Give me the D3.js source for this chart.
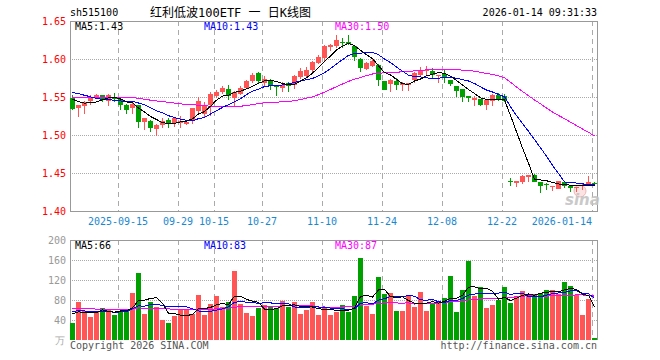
<!DOCTYPE html>
<html>
<head>
<meta charset="utf-8">
<script src="https://cdn.jsdelivr.net/npm/d3@7"></script>
<style>
  body { margin: 0; background: #fff; }
  text { font-family: "DejaVu Sans Mono", monospace; font-size: 10px; }
</style>
</head>
<body>
<div class="canvas"></div>
<script>
// trading days shown on the chart
const dates = [
  '2025-09-03','2025-09-04','2025-09-05','2025-09-08','2025-09-09','2025-09-10','2025-09-11','2025-09-12',
  '2025-09-15','2025-09-16','2025-09-17','2025-09-18','2025-09-19','2025-09-22','2025-09-23','2025-09-24',
  '2025-09-25','2025-09-26','2025-09-29','2025-09-30','2025-10-09','2025-10-10','2025-10-13','2025-10-14',
  '2025-10-15','2025-10-16','2025-10-17','2025-10-20','2025-10-21','2025-10-22','2025-10-23','2025-10-24',
  '2025-10-27','2025-10-28','2025-10-29','2025-10-30','2025-10-31','2025-11-03','2025-11-04','2025-11-05',
  '2025-11-06','2025-11-07','2025-11-10','2025-11-11','2025-11-12','2025-11-13','2025-11-14','2025-11-17',
  '2025-11-18','2025-11-19','2025-11-20','2025-11-21','2025-11-24','2025-11-25','2025-11-26','2025-11-27',
  '2025-11-28','2025-12-01','2025-12-02','2025-12-03','2025-12-04','2025-12-05','2025-12-08','2025-12-09',
  '2025-12-10','2025-12-11','2025-12-12','2025-12-15','2025-12-16','2025-12-17','2025-12-18','2025-12-19',
  '2025-12-22','2025-12-23','2025-12-24','2025-12-25','2025-12-26','2025-12-29','2025-12-30','2025-12-31',
  '2026-01-05','2026-01-06','2026-01-07','2026-01-08','2026-01-09','2026-01-12','2026-01-13','2026-01-14'
];

const open = [
  1.549,1.535,1.538,1.545,1.550,1.552,1.545,1.549,1.547,1.540,1.535,1.539,1.517,1.519,1.508,1.513,
  1.520,1.516,1.516,1.514,1.518,1.531,1.527,1.539,1.551,1.556,1.5605,1.549,1.554,1.562,1.5706,1.5816,
  1.569,1.5706,1.565,1.5618,1.5684,1.566,1.5763,1.578,1.585,1.5947,1.601,1.6158,1.6175,1.6228,1.6228,1.6167,
  1.600,1.587,1.591,1.5925,1.5706,1.5675,1.5706,1.5662,1.566,1.5728,1.5794,1.585,1.5838,1.578,1.5807,1.5728,
  1.5649,1.5605,1.5507,1.5456,1.5474,1.540,1.5443,1.553,1.5518,1.439,1.437,1.4386,1.4447,1.4478,1.4382,1.4355,
  1.431,1.4293,1.4386,1.4333,1.430,1.4333,1.4342,1.4368
];
const high = [
  1.552,1.540,1.545,1.553,1.554,1.553,1.554,1.555,1.549,1.541,1.542,1.540,1.522,1.520,1.515,1.522,
  1.522,1.524,1.525,1.519,1.536,1.550,1.544,1.557,1.559,1.564,1.566,1.558,1.564,1.573,1.581,1.583,
  1.577,1.574,1.565,1.570,1.570,1.579,1.588,1.589,1.598,1.605,1.618,1.620,1.632,1.628,1.631,1.618,
  1.601,1.596,1.6013,1.594,1.571,1.574,1.575,1.570,1.569,1.583,1.590,1.591,1.588,1.5794,1.586,1.573,
  1.565,1.561,1.551,1.5518,1.548,1.547,1.5544,1.5553,1.5535,1.4434,1.439,1.447,1.4478,1.449,1.4385,1.4368,
  1.4333,1.440,1.440,1.4335,1.432,1.437,1.4456,1.4377
];
const low = [
  1.533,1.524,1.527,1.539,1.547,1.543,1.538,1.543,1.533,1.528,1.527,1.509,1.507,1.504,1.499,1.509,
  1.509,1.511,1.509,1.513,1.514,1.529,1.523,1.525,1.549,1.554,1.5456,1.538,1.552,1.560,1.569,1.569,
  1.565,1.5596,1.551,1.557,1.556,1.561,1.574,1.576,1.583,1.593,1.598,1.611,1.615,1.615,1.618,1.597,
  1.583,1.585,1.589,1.564,1.559,1.556,1.5596,1.5575,1.558,1.568,1.5767,1.579,1.5737,1.569,1.569,1.564,
  1.550,1.544,1.544,1.5386,1.5386,1.5325,1.5377,1.5443,1.5434,1.4333,1.4316,1.436,1.4386,1.4377,1.4237,1.4272,
  1.426,1.429,1.4307,1.4246,1.4246,1.4277,1.4333,1.4334
];
const close = [
  1.534,1.539,1.543,1.550,1.552,1.547,1.552,1.547,1.539,1.533,1.541,1.517,1.522,1.509,1.513,1.519,
  1.514,1.522,1.519,1.517,1.535,1.545,1.538,1.554,1.557,1.562,1.551,1.557,1.562,1.571,1.579,1.5706,
  1.5737,1.565,1.563,1.566,1.564,1.577,1.5837,1.586,1.596,1.6026,1.6167,1.618,1.6254,1.622,1.620,1.6026,
  1.588,1.595,1.597,1.572,1.5596,1.572,1.5654,1.5684,1.568,1.5816,1.585,1.586,1.5794,1.5794,1.575,1.5675,
  1.5575,1.550,1.549,1.5487,1.540,1.5456,1.553,1.5474,1.5443,1.438,1.439,1.4456,1.4478,1.4386,1.4333,1.4342,
  1.4333,1.439,1.4333,1.4307,1.432,1.4346,1.4377,1.4355
];
// volume, 万手
const volume = [
  34,76,58,46,58,64,60,50,58,60,94,134,52,76,66,40,
  34,48,60,62,52,90,50,72,88,66,76,138,72,54,48,64,
  70,68,64,78,66,76,52,60,76,50,66,50,56,70,56,88,
  165,68,52,127,93,95,58,58,90,67,96,58,72,76,84,129,
  57,100,159,88,106,64,70,80,106,75,88,98,93,93,95,100,
  100,92,116,108,90,50,82,4
];
// the 29 sessions before the window, needed for the moving averages
const prevClose = [
  1.538,1.542,1.547,1.551,1.549,1.544,1.540,1.536,1.541,1.546,1.550,1.553,1.549,1.545,1.542,
  1.547,1.550,1.548,1.544,1.548,1.556,1.563,1.570,1.572,1.563,1.556,1.552,1.548,1.546
];
const prevVolume = [
  72,58,64,80,70,55,61,68,75,62,59,66,73,60,57,69,71,64,70,66,58,66,63,60,63,55,62,51,58
];

const tickDates = ['2025-09-15','2025-09-29','2025-10-15','2025-10-27','2025-11-10','2025-11-24','2025-12-08','2025-12-22','2026-01-14'];
const tickLabels = ['2025-09-15','09-29','10-15','10-27','11-10','11-24','12-08','12-22','2026-01-14'];
const priceTicks = [1.40, 1.45, 1.50, 1.55, 1.60, 1.65];
const volTicks = [40, 80, 120, 160, 200];
const maPeriods = [5, 10, 30];
const maColors = ['#000000', '#0000ff', '#ff00ff'];

const W = 660, H = 360;
const L = 70, R = 597;
const pTop = 21, pBot = 211, vTop = 240, vBot = 340;
const red = '#ff5555', green = '#00a000', gridColor = '#aaaaaa';

const svg = d3.select('.canvas').append('svg')
  .attr('width', W).attr('height', H);

const x = d3.scaleBand().domain(dates)
  .range([L - 0.5, R + 0.5]).paddingInner(1 / 6).paddingOuter(1 / 12);
const bw = x.bandwidth();
const cx = d => x(d) + Math.floor(bw / 2) + 0.5;

const y = d3.scaleLinear().domain([1.40, 1.65]).range([pBot, pTop]);
const yv = d3.scaleLinear().domain([0, 200]).range([vBot, vTop]);

// moving averages over the previous sessions + the window
const movingAvg = (prev, vals, n) => {
  const all = prev.concat(vals);
  return vals.map((v, i) => d3.mean(all.slice(prev.length + i - n + 1, prev.length + i + 1)));
};
const priceMA = maPeriods.map(n => movingAvg(prevClose, close, n));
const volMA = maPeriods.map(n => movingAvg(prevVolume, volume, n));

const bars = dates.map((d, i) => ({
  date: d, o: open[i], h: high[i], l: low[i], c: close[i], v: volume[i],
  up: close[i] >= open[i]
}));

// grid: horizontal dotted, vertical dashed
const grid = svg.append('g').attr('shape-rendering', 'crispEdges');
grid.selectAll('.hp').data(priceTicks.filter(t => t > 1.40 && t < 1.65)).enter()
  .append('line')
  .attr('x1', L).attr('x2', R)
  .attr('y1', d => Math.round(y(d)) + 0.5).attr('y2', d => Math.round(y(d)) + 0.5)
  .attr('stroke', gridColor).attr('stroke-dasharray', '1,1');
grid.selectAll('.hv').data(volTicks.filter(t => t < 200)).enter()
  .append('line')
  .attr('x1', L).attr('x2', R)
  .attr('y1', d => Math.round(yv(d)) + 0.5).attr('y2', d => Math.round(yv(d)) + 0.5)
  .attr('stroke', gridColor).attr('stroke-dasharray', '1,1');
[[pTop, pBot], [vTop, vBot]].forEach(([t, b]) => {
  grid.selectAll(null).data(tickDates).enter()
    .append('line')
    .attr('x1', d => x(d) + 0.5).attr('x2', d => x(d) + 0.5)
    .attr('y1', t).attr('y2', b)
    .attr('stroke', gridColor).attr('stroke-dasharray', '5,4');
});

// panel frames
const frame = svg.append('g').attr('shape-rendering', 'crispEdges')
  .attr('fill', 'none').attr('stroke', '#999').attr('stroke-width', 1);
frame.append('rect').attr('x', L + 0.5).attr('y', pTop + 0.5)
  .attr('width', R - L).attr('height', pBot - pTop);
frame.append('path')
  .attr('d', `M${L + 0.5},${vBot}V${vTop + 0.5}H${R + 0.5}V${vBot}`);

// watermark
const wm = svg.append('g');
wm.append('circle').attr('cx', 580).attr('cy', 191).attr('r', 6)
  .attr('fill', '#fbe3e3').attr('stroke', '#f2b5b5');
wm.append('text').attr('x', 565).attr('y', 205)
  .style('font-family', '"DejaVu Sans", sans-serif').style('font-size', '15px')
  .style('font-style', 'italic').style('font-weight', 'bold')
  .attr('fill', '#c4c4c4').attr('opacity', 0.9).text('sina');

// candles
const candles = svg.append('g').attr('shape-rendering', 'crispEdges');
candles.selectAll('line').data(bars).enter().append('line')
  .attr('x1', d => cx(d.date)).attr('x2', d => cx(d.date))
  .attr('y1', d => Math.round(y(d.h))).attr('y2', d => Math.round(y(d.l)))
  .attr('stroke', d => d.up ? red : green);
candles.selectAll('rect').data(bars).enter().append('rect')
  .attr('x', d => x(d.date)).attr('width', bw)
  .attr('y', d => Math.round(y(Math.max(d.o, d.c))))
  .attr('height', d => Math.max(1, Math.round(y(Math.min(d.o, d.c))) - Math.round(y(Math.max(d.o, d.c)))))
  .attr('fill', d => d.up ? red : green);

// volume bars
svg.append('g').attr('shape-rendering', 'crispEdges')
  .selectAll('rect').data(bars).enter().append('rect')
  .attr('x', d => x(d.date)).attr('width', bw)
  .attr('y', d => Math.round(yv(d.v)))
  .attr('height', d => vBot - Math.round(yv(d.v)))
  .attr('fill', d => d.up ? red : green);

// moving average lines
const priceLine = d3.line().x((d, i) => cx(dates[i])).y(d => y(d));
const volLine = d3.line().x((d, i) => cx(dates[i])).y(d => yv(d));
const maG = svg.append('g').attr('fill', 'none').attr('stroke-width', 1)
  .attr('shape-rendering', 'crispEdges');
priceMA.slice().reverse().forEach((s, j) => {
  maG.append('path').attr('d', priceLine(s)).attr('stroke', maColors[2 - j]);
});
volMA.slice().reverse().forEach((s, j) => {
  maG.append('path').attr('d', volLine(s)).attr('stroke', maColors[2 - j]);
});

// y axes
const yAxis = svg.append('g').attr('transform', `translate(${L},0)`)
  .call(d3.axisLeft(y).tickValues(priceTicks).tickSize(0).tickPadding(4).tickFormat(d3.format('.2f')));
yAxis.select('.domain').remove();
yAxis.selectAll('text').attr('fill', '#ff0000').style('font-size', '10px')
  .style('font-family', '"DejaVu Sans Mono", monospace');

const vAxis = svg.append('g').attr('transform', `translate(${L},0)`)
  .call(d3.axisLeft(yv).tickValues(volTicks).tickSize(0).tickPadding(4));
vAxis.select('.domain').remove();
vAxis.selectAll('text').attr('fill', '#999').style('font-size', '10px')
  .style('font-family', '"DejaVu Sans Mono", monospace');

svg.append('text').attr('x', 65).attr('y', 344).attr('text-anchor', 'end')
  .attr('fill', '#aaa').text('万');

// date labels
svg.append('g').selectAll('text').data(tickDates).enter().append('text')
  .attr('x', d => x(d))
  .attr('y', 225)
  .attr('text-anchor', (d, i) => i === tickDates.length - 1 ? 'end' : 'middle')
  .attr('fill', '#1a88d0')
  .text((d, i) => tickLabels[i]);

// MA legends
const last = a => a[a.length - 1];
const legendX = [75, 204, 335];
maPeriods.forEach((n, j) => {
  svg.append('text').attr('x', legendX[j]).attr('y', 30).attr('fill', maColors[j])
    .text(`MA${n}:${last(priceMA[j]).toFixed(2)}`);
  svg.append('text').attr('x', legendX[j]).attr('y', 249).attr('fill', maColors[j])
    .text(`MA${n}:${Math.floor(last(volMA[j]))}`);
});

// header and footer
svg.append('text').attr('x', 70).attr('y', 16).attr('fill', '#000').text('sh515100');
svg.append('text').attr('x', 150).attr('y', 17).attr('fill', '#000')
  .style('font-size', '12px')
  .style('font-family', '"DejaVu Sans Mono", "Noto Sans CJK SC", monospace')
  .text('红利低波100ETF 一 日K线图');
svg.append('text').attr('x', 597).attr('y', 16).attr('text-anchor', 'end')
  .attr('fill', '#000').text('2026-01-14 09:31:33');
svg.append('text').attr('x', 70).attr('y', 349).attr('fill', '#555')
  .text('Copyright 2026 SINA.COM');
svg.append('text').attr('x', 597).attr('y', 349).attr('text-anchor', 'end')
  .attr('fill', '#555').text('http://finance.sina.com.cn');
</script>
</body>
</html>
